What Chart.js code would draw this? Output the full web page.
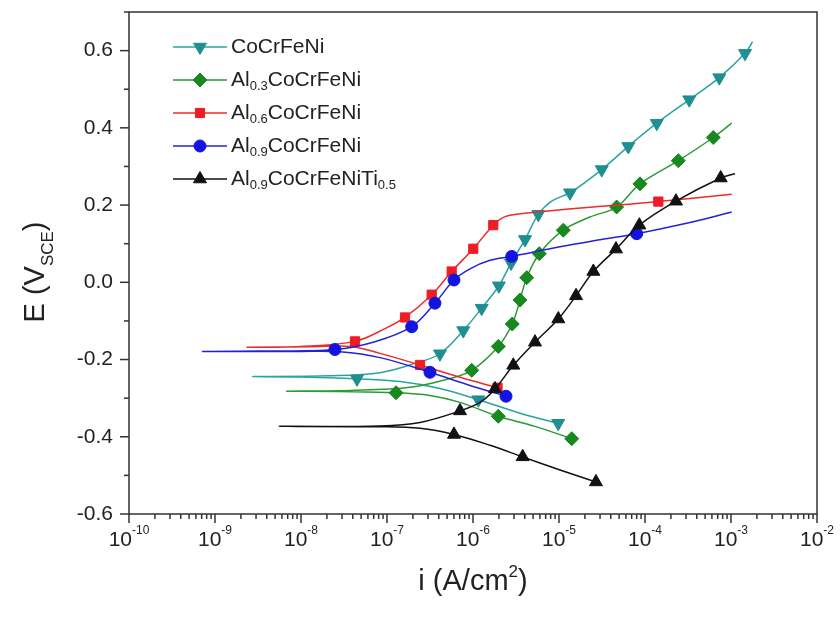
<!DOCTYPE html>
<html>
<head>
<meta charset="utf-8">
<script src="https://cdn.jsdelivr.net/npm/chart.js@4.4.1/dist/chart.umd.min.js"></script>
<style>
  html, body { margin: 0; padding: 0; background: #fff; }
  #wrap { width: 840px; height: 622px; position: relative; }
</style>
</head>
<body>
<div id="wrap"><canvas id="chart"></canvas></div>
<script>
// polarization curves: [i (A/cm2), E (V vs SCE)], cathodic end -> Ecorr -> anodic end
const coCrFeNi = [
  [9.79e-6, -0.365], [3.52e-6, -0.339], [1.153e-6, -0.304], [4.13e-7, -0.275], [1.416e-7, -0.257],
  [4.48e-8, -0.250], [9.72e-9, -0.245], [2.77e-9, -0.244],
  [2.17e-8, -0.242], [8.30e-8, -0.234], [2.12e-7, -0.210], [4.13e-7, -0.185], [7.71e-7, -0.125],
  [1.262e-6, -0.067], [2.00e-6, -0.009], [2.77e-6, 0.050], [4.03e-6, 0.111], [5.75e-6, 0.176],
  [8.30e-6, 0.211], [1.343e-5, 0.232], [3.14e-5, 0.292], [6.40e-5, 0.352], [1.371e-4, 0.412],
  [3.27e-4, 0.473], [7.31e-4, 0.530], [1.455e-3, 0.593], [1.78e-3, 0.623]
]
const coCrFeNiMarks = [
  [9.79e-6, -0.365], [1.153e-6, -0.304], [4.48e-8, -0.250], [4.13e-7, -0.185], [7.71e-7, -0.125],
  [1.262e-6, -0.067], [2.00e-6, -0.009], [2.77e-6, 0.050], [4.03e-6, 0.111], [5.75e-6, 0.176],
  [1.343e-5, 0.232], [3.14e-5, 0.292], [6.40e-5, 0.352], [1.371e-4, 0.412], [3.27e-4, 0.473],
  [7.31e-4, 0.530], [1.455e-3, 0.593]
]

const al03 = [
  [1.406e-5, -0.405], [5.26e-6, -0.373], [1.968e-6, -0.347], [7.06e-7, -0.311], [3.16e-7, -0.293],
  [1.274e-7, -0.286], [2.84e-8, -0.283], [6.82e-9, -0.282],
  [3.72e-8, -0.280], [1.849e-7, -0.272], [5.41e-7, -0.249], [9.66e-7, -0.228], [1.968e-6, -0.166],
  [2.86e-6, -0.108], [3.52e-6, -0.046], [4.21e-6, 0.012], [5.90e-6, 0.074], [1.122e-5, 0.135],
  [2.29e-5, 0.169], [4.68e-5, 0.195], [8.75e-5, 0.255], [2.44e-4, 0.315], [6.22e-4, 0.375],
  [1.019e-3, 0.412]
]
const al03Marks = [
  [1.406e-5, -0.405], [1.968e-6, -0.347], [1.274e-7, -0.286], [9.66e-7, -0.228], [1.968e-6, -0.166],
  [2.86e-6, -0.108], [3.52e-6, -0.046], [4.21e-6, 0.012], [5.90e-6, 0.074], [1.122e-5, 0.135],
  [4.68e-5, 0.195], [8.75e-5, 0.255], [2.44e-4, 0.315], [6.22e-4, 0.375]
]

const al06 = [
  [1.928e-6, -0.273], [7.06e-7, -0.246], [2.42e-7, -0.214], [8.30e-8, -0.184], [3.72e-8, -0.166],
  [1.274e-8, -0.167], [2.36e-9, -0.168],
  [9.72e-9, -0.166], [4.25e-8, -0.153], [9.48e-8, -0.120], [1.618e-7, -0.091], [3.31e-7, -0.032],
  [5.65e-7, 0.028], [1.007e-6, 0.087], [1.722e-6, 0.148], [2.36e-6, 0.170], [4.60e-6, 0.180],
  [4.72e-5, 0.200], [1.429e-4, 0.209], [1.019e-3, 0.228]
]
const al06Marks = [
  [1.928e-6, -0.273], [2.42e-7, -0.214], [4.25e-8, -0.153], [1.618e-7, -0.091], [3.31e-7, -0.032],
  [5.65e-7, 0.028], [1.007e-6, 0.087], [1.722e-6, 0.148], [1.429e-4, 0.209]
]

const al09 = [
  [2.42e-6, -0.295], [9.23e-7, -0.267], [3.16e-7, -0.233], [8.30e-8, -0.195], [2.84e-8, -0.180],
  [9.72e-9, -0.179], [7.24e-10, -0.179],
  [3.33e-9, -0.178], [2.48e-8, -0.174], [7.24e-8, -0.154], [1.936e-7, -0.115], [3.61e-7, -0.054],
  [6.01e-7, 0.006], [9.23e-7, 0.035], [1.578e-6, 0.057], [2.82e-6, 0.067], [1.028e-5, 0.092],
  [3.00e-5, 0.110], [8.00e-5, 0.126], [3.33e-4, 0.155], [1.019e-3, 0.182]
]
const al09Marks = [
  [2.42e-6, -0.295], [3.16e-7, -0.233], [2.48e-8, -0.174], [1.936e-7, -0.115], [3.61e-7, -0.054],
  [6.01e-7, 0.006], [2.82e-6, 0.067], [8.00e-5, 0.126]
]

const al09Ti05 = [
  [2.69e-5, -0.517], [1.028e-5, -0.486], [3.78e-6, -0.452], [1.578e-6, -0.422], [6.01e-7, -0.394],
  [2.42e-7, -0.378], [8.30e-8, -0.374], [5.55e-9, -0.373],
  [8.30e-8, -0.372], [2.42e-7, -0.363], [7.06e-7, -0.333], [1.205e-6, -0.311], [1.803e-6, -0.276],
  [2.94e-6, -0.215], [5.26e-6, -0.155], [9.82e-6, -0.095], [1.578e-5, -0.035], [2.51e-5, 0.028],
  [4.60e-5, 0.086], [8.59e-5, 0.148], [2.29e-4, 0.210], [7.59e-4, 0.270], [1.112e-3, 0.281]
]
const al09Ti05Marks = [
  [2.69e-5, -0.517], [3.78e-6, -0.452], [6.01e-7, -0.394], [7.06e-7, -0.333], [1.803e-6, -0.276],
  [2.94e-6, -0.215], [5.26e-6, -0.155], [9.82e-6, -0.095], [1.578e-5, -0.035], [2.51e-5, 0.028],
  [4.60e-5, 0.086], [8.59e-5, 0.148], [2.29e-4, 0.210], [7.59e-4, 0.270]
]

const seriesNames = ['CoCrFeNi', 'Al_{0.3}CoCrFeNi', 'Al_{0.6}CoCrFeNi', 'Al_{0.9}CoCrFeNi', 'Al_{0.9}CoCrFeNiTi_{0.5}']
const xTickExps = [-10, -9, -8, -7, -6, -5, -4, -3, -2]
const xTickLabels = ['-10', '-9', '-8', '-7', '-6', '-5', '-4', '-3', '-2']
const yTickLabels = ['-0.6', '-0.4', '-0.2', '0.0', '0.2', '0.4', '0.6']

const FONT = '"Liberation Sans", Arial, sans-serif'

const styles = [
  { line: '#2aa3a3', mark: '#1f8f8f', point: 'triangle', rotation: 180, radius: 7.5 },
  { line: '#2c9a36', mark: '#17891f', point: 'rectRot', rotation: 0, radius: 7 },
  { line: '#ee2a2a', mark: '#ee1c24', point: 'rect', rotation: 0, radius: 6.5 },
  { line: '#2222d8', mark: '#1414e0', point: 'circle', rotation: 0, radius: 6 },
  { line: '#111111', mark: '#111111', point: 'triangle', rotation: 0, radius: 7.5 }
]
const lines = [coCrFeNi, al03, al06, al09, al09Ti05]
const marks = [coCrFeNiMarks, al03Marks, al06Marks, al09Marks, al09Ti05Marks]
const toXY = arr => arr.map(p => ({ x: p[0], y: p[1] }))

const datasets = []
lines.forEach((ln, i) => {
  const s = styles[i]
  datasets.push({
    label: seriesNames[i],
    data: toXY(ln),
    showLine: true,
    borderColor: s.line,
    borderWidth: 1.5,
    tension: 0.35,
    pointRadius: 0,
    order: 2 * (4 - i) + 1
  })
  datasets.push({
    label: seriesNames[i] + ' marks',
    data: toXY(marks[i]),
    showLine: false,
    pointStyle: s.point,
    rotation: s.rotation,
    pointRadius: s.radius,
    backgroundColor: s.mark,
    borderColor: s.mark,
    borderWidth: 1,
    order: 2 * (4 - i)
  })
})

// text with _{sub} parts
function drawRich (ctx, text, x, y, size, align) {
  const parts = text.split(/(_\{[^}]*\})/).filter(t => t)
  const subSize = Math.round(size * 0.6)
  const segs = parts.map(t => {
    const sub = t.startsWith('_{')
    const str = sub ? t.slice(2, -1) : t
    ctx.font = `${sub ? subSize : size}px ${FONT}`
    return { str, sub, w: ctx.measureText(str).width }
  })
  const total = segs.reduce((a, s) => a + s.w, 0)
  let cx = align === 'center' ? x - total / 2 : x
  segs.forEach(s => {
    ctx.font = `${s.sub ? subSize : size}px ${FONT}`
    ctx.fillText(s.str, cx, s.sub ? y + size * 0.3 : y)
    cx += s.w
  })
}

const decorations = {
  id: 'decorations',
  afterDraw (chart) {
    const { ctx, chartArea: a, scales } = chart
    const xs = scales.x
    const ys = scales.y
    ctx.save()
    ctx.strokeStyle = '#333'
    ctx.fillStyle = '#222'
    ctx.lineWidth = 1.5
    ctx.strokeRect(a.left, a.top, a.right - a.left, a.bottom - a.top)

    // y ticks
    ys.ticks.forEach(t => {
      const n = Math.round(t.value * 10)
      const py = ys.getPixelForValue(n / 10)
      const len = n % 2 === 0 ? 9 : 5
      ctx.beginPath()
      ctx.moveTo(a.left - len, py)
      ctx.lineTo(a.left, py)
      ctx.stroke()
    })

    // x ticks + labels
    ctx.textBaseline = 'alphabetic'
    xTickExps.forEach((e, k) => {
      const px = xs.getPixelForValue(Math.pow(10, e))
      ctx.beginPath()
      ctx.moveTo(px, a.bottom)
      ctx.lineTo(px, a.bottom + 9)
      ctx.stroke()
      if (e < -2) {
        for (let m = 2; m < 10; m++) {
          const mx = xs.getPixelForValue(m * Math.pow(10, e))
          ctx.beginPath()
          ctx.moveTo(mx, a.bottom)
          ctx.lineTo(mx, a.bottom + 5)
          ctx.stroke()
        }
      }
      ctx.font = `21px ${FONT}`
      const wb = ctx.measureText('10').width
      ctx.font = `12px ${FONT}`
      const we = ctx.measureText(xTickLabels[k]).width
      const x0 = px - (wb + we) / 2
      ctx.font = `21px ${FONT}`
      ctx.textAlign = 'left'
      ctx.fillText('10', x0, a.bottom + 32)
      ctx.font = `12px ${FONT}`
      ctx.fillText(xTickLabels[k], x0 + wb, a.bottom + 20)
    })

    // axis titles
    ctx.fillStyle = '#222'
    ctx.textAlign = 'left'
    ctx.font = `29px ${FONT}`
    const t1 = 'i (A/cm'
    const w1 = ctx.measureText(t1).width
    ctx.font = `17px ${FONT}`
    const w2 = ctx.measureText('2').width
    ctx.font = `29px ${FONT}`
    const w3 = ctx.measureText(')').width
    const tx = (a.left + a.right) / 2 - (w1 + w2 + w3) / 2
    ctx.fillText(t1, tx, 590)
    ctx.font = `17px ${FONT}`
    ctx.fillText('2', tx + w1, 577)
    ctx.font = `29px ${FONT}`
    ctx.fillText(')', tx + w1 + w2, 590)

    ctx.save()
    ctx.translate(44, 272)
    ctx.rotate(-Math.PI / 2)
    drawRich(ctx, 'E (V_{SCE})', 0, 0, 29, 'center')
    ctx.restore()

    // legend
    seriesNames.forEach((name, i) => {
      const s = styles[i]
      const ly = 47 + 33 * i
      ctx.strokeStyle = s.line
      ctx.lineWidth = 1.5
      ctx.beginPath()
      ctx.moveTo(173, ly)
      ctx.lineTo(227, ly)
      ctx.stroke()
      ctx.fillStyle = s.mark
      ctx.strokeStyle = s.mark
      ctx.lineWidth = 1
      Chart.helpers.drawPoint(ctx, { pointStyle: s.point, rotation: s.rotation, radius: s.radius, borderWidth: 1 }, 200, ly)
      ctx.fillStyle = '#222'
      ctx.textBaseline = 'middle'
      drawRich(ctx, name, 231, ly, 21, 'left')
      ctx.textBaseline = 'alphabetic'
    })
    ctx.restore()
  }
}

new Chart(document.getElementById('chart'), {
  type: 'scatter',
  data: { datasets },
  options: {
    responsive: true,
    maintainAspectRatio: false,
    animation: false,
    layout: { autoPadding: false, padding: { left: 0, top: 12, right: 23, bottom: 0 } },
    plugins: { legend: { display: false }, tooltip: { enabled: false } },
    scales: {
      x: {
        type: 'logarithmic',
        min: 1e-10,
        max: 1e-2,
        grid: { display: false, drawTicks: false },
        border: { display: false },
        ticks: { display: false },
        afterFit: s => { s.height = 108; s.paddingLeft = 0; s.paddingRight = 0 }
      },
      y: {
        type: 'linear',
        min: -0.6,
        max: 0.7,
        grid: { display: false, drawTicks: false },
        border: { display: false },
        ticks: {
          stepSize: 0.1,
          autoSkip: false,
          padding: 16,
          color: '#222',
          font: { family: FONT, size: 21 },
          callback: v => {
            const n = Math.round(v * 10)
            return n % 2 === 0 && Math.abs(n) <= 6 ? yTickLabels[n / 2 + 3] : ''
          }
        },
        afterFit: s => { s.width = 129; s.paddingTop = 0; s.paddingBottom = 0 }
      }
    }
  },
  plugins: [decorations]
})
</script>
</body>
</html>
